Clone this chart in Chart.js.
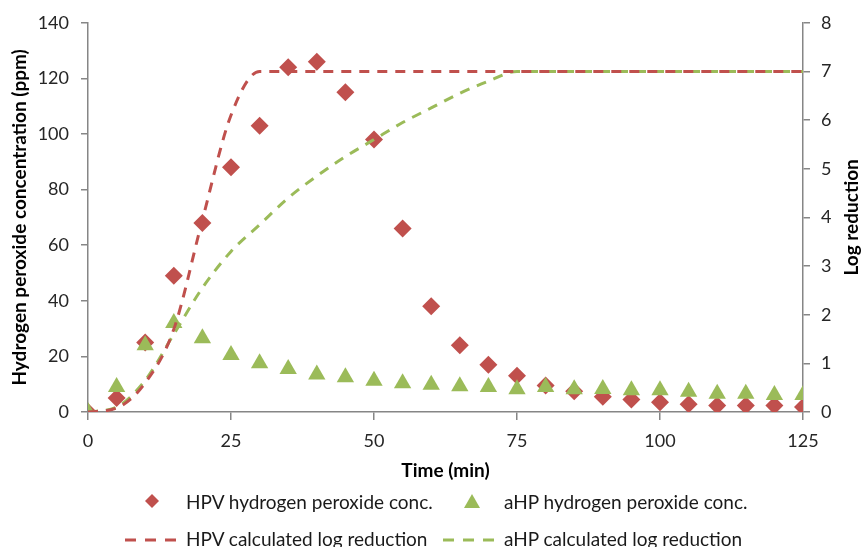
<!DOCTYPE html>
<html>
<head>
<meta charset="utf-8">
<script src="https://cdn.jsdelivr.net/npm/chart.js@4.4.1/dist/chart.umd.min.js"></script>
<style>
  html, body { margin: 0; padding: 0; background: #fff; }
  #wrap { position: relative; width: 861px; height: 547px; font-family: Lato, sans-serif; }
  #chart { position: absolute; left: 0; top: 0; }
  .lg { position: absolute; display: flex; align-items: center; font-size: 19px; color: #1a1a1a; white-space: nowrap; height: 26px; }
  .lg svg { margin-right: 7px; }
</style>
</head>
<body>
<div id="wrap">
  <canvas id="chart" width="861" height="547"></canvas>
  <div class="lg" style="left:125px;top:488px">
    <svg width="54" height="20"><polygon points="27,3 34,10 27,17 20,10" fill="#C0504D"/></svg>HPV hydrogen peroxide conc.</div>
  <div class="lg" style="left:443px;top:488px">
    <svg width="54" height="20"><polygon points="29,3 37,17 21,17" fill="#9BBB59"/></svg>aHP hydrogen peroxide conc.</div>
  <div class="lg" style="left:125px;top:525px">
    <svg width="54" height="20"><line x1="0" y1="12" x2="54" y2="12" stroke="#C0504D" stroke-width="3" stroke-dasharray="11 9"/></svg>HPV calculated log reduction</div>
  <div class="lg" style="left:443px;top:525px">
    <svg width="54" height="20"><line x1="0" y1="12" x2="54" y2="12" stroke="#9BBB59" stroke-width="3" stroke-dasharray="11 9"/></svg>aHP calculated log reduction</div>
</div>
<script>
(function(){
  'use strict';

  // Tiempos de muestreo (min)
  const times = [0, 5, 10, 15, 20, 25, 30, 35, 40, 45, 50, 55, 60, 65, 70, 75, 80, 85, 90, 95, 100, 105, 110, 115, 120, 125];

  // Concentración de peróxido (ppm), eje izquierdo
  const hpvConc = [0, 5, 25, 49, 68, 88, 103, 124, 126, 115, 98, 66, 38, 24, 17, 13, 9.5, 7.5, 5.5, 4.5, 3.5, 2.8, 2.3, 2.3, 2.3, 1.8];
  const ahpConc = [0, 9, 24, 32, 26.5, 20.5, 17.5, 15.5, 13.5, 12.5, 11.2, 10.3, 9.8, 9.3, 9, 8.2, 9, 8.2, 8.3, 7.8, 7.8, 7.3, 6.6, 6.6, 6.1, 6.1];

  // Reducción logarítmica calculada, eje derecho
  const hpvLog = [0, 0.08, 0.6, 1.7, 3.95, 6.1, 7, 7, 7, 7, 7, 7, 7, 7, 7, 7, 7, 7, 7, 7, 7, 7, 7, 7, 7, 7];
  const ahpLog = [0, 0.1, 0.65, 1.6, 2.55, 3.3, 3.85, 4.4, 4.85, 5.25, 5.6, 5.95, 6.25, 6.55, 6.8, 7, 7, 7, 7, 7, 7, 7, 7, 7, 7, 7];

  const RED = '#C0504D';
  const GREEN = '#9BBB59';
  const AXIS = '#868686';
  const TICK = '#262626';

  function pts(ys){ return times.map((t, i) => ({ x: t, y: ys[i] })); }

  // Título del eje derecho, leído de abajo hacia arriba
  const rightTitle = {
    id: 'rightTitle',
    afterDraw(chart){
      const ctx = chart.ctx;
      const a = chart.chartArea;
      ctx.save();
      ctx.translate(852, (a.top + a.bottom) / 2);
      ctx.rotate(-Math.PI / 2);
      ctx.font = 'bold 19px Lato';
      ctx.fillStyle = '#000';
      ctx.textAlign = 'center';
      ctx.textBaseline = 'middle';
      ctx.fillText('Log reduction', 0, 0);
      ctx.restore();
    }
  };

  const tickFont = { family: 'Lato', size: 18 };
  const titleFont = { family: 'Lato', size: 19, weight: 'bold' };

  new Chart(document.getElementById('chart'), {
    type: 'scatter',
    data: {
      datasets: [
        { label: 'HPV calculated log reduction', data: pts(hpvLog), yAxisID: 'y1', showLine: true,
          borderColor: RED, borderWidth: 3, borderDash: [10, 8], pointRadius: 0, cubicInterpolationMode: 'monotone' },
        { label: 'aHP calculated log reduction', data: pts(ahpLog), yAxisID: 'y1', showLine: true,
          borderColor: GREEN, borderWidth: 3, borderDash: [10, 8], pointRadius: 0, cubicInterpolationMode: 'monotone' },
        { label: 'aHP hydrogen peroxide conc.', data: pts(ahpConc), yAxisID: 'y',
          pointStyle: 'triangle', pointRadius: 10, backgroundColor: GREEN, borderColor: GREEN, borderWidth: 0 },
        { label: 'HPV hydrogen peroxide conc.', data: pts(hpvConc), yAxisID: 'y',
          pointStyle: 'rectRot', pointRadius: 9, backgroundColor: RED, borderColor: RED, borderWidth: 0 }
      ]
    },
    options: {
      responsive: false,
      animation: false,
      layout: { padding: { top: 22, bottom: 65, left: 0, right: 0 } },
      plugins: { legend: { display: false }, tooltip: { enabled: false } },
      scales: {
        x: {
          type: 'linear', min: 0, max: 125,
          afterFit(s){ s.height = 70; },
          ticks: { stepSize: 25, font: tickFont, color: TICK, padding: 10 },
          grid: { drawOnChartArea: false, color: AXIS, tickLength: 8, lineWidth: 1.5 },
          border: { color: AXIS, width: 1.5 },
          title: { display: true, text: 'Time (min)', font: titleFont, color: '#000', padding: 0 }
        },
        y: {
          position: 'left', min: 0, max: 140,
          afterFit(s){ s.width = 88; },
          ticks: { stepSize: 20, font: tickFont, color: TICK, padding: 12 },
          grid: { drawOnChartArea: false, color: AXIS, tickLength: 7, lineWidth: 1.5 },
          border: { color: AXIS, width: 1.5 },
          title: { display: true, text: 'Hydrogen peroxide concentration (ppm)', font: titleFont, color: '#000', padding: { top: 8 } }
        },
        y1: {
          position: 'right', min: 0, max: 8,
          afterFit(s){ s.width = 58; },
          ticks: { stepSize: 1, font: tickFont, color: TICK, padding: 11 },
          grid: { drawOnChartArea: false, color: AXIS, tickLength: 7, lineWidth: 1.5 },
          border: { color: AXIS, width: 1.5 }
        }
      }
    },
    plugins: [rightTitle]
  });
})();
</script>
</body>
</html>
